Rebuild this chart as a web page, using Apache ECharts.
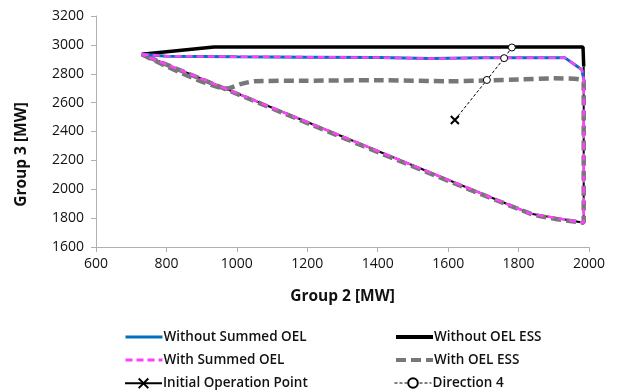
<!DOCTYPE html>
<html lang="en">
<head>
    <meta charset="UTF-8">
    <title>Group 2 vs Group 3</title>
    <script src="https://cdn.jsdelivr.net/npm/echarts@6/dist/echarts.min.js"></script>
    <style>
        html, body {margin: 0; padding: 0; background: #fff;}
        #chart {width: 619px; height: 391px;}
    </style>
</head>
<body>
<div id="chart"></div>
<script>
    // values, [Group 2 MW, Group 3 MW]
    var startPt = [730, 2935];
    var bottomEdge = [[1985, 1768], [1835, 1830], [730, 2935]];
    var summedTop = [[730, 2935], [800, 2922], [1000, 2918], [1200, 2915], [1400, 2912], [1550, 2905], [1700, 2910], [1932, 2910], [1980, 2828], [1985, 2760]];
    var essTop = [[730, 2935], [935, 2985], [1983, 2985], [1985, 2850]];
    var essWithTop = [[972, 2697], [1010, 2728], [1050, 2748], [1200, 2752], [1400, 2755], [1600, 2748], [1800, 2760], [1900, 2768], [1985, 2750]];
    var initialPoint = [[1619, 2480]];
    var direction4 = [[1619, 2480], [1710, 2757], [1759, 2908], [1781, 2982]];

    var xTicks = {min: 600, max: 2000, step: 200};
    var yTicks = {min: 1600, max: 3200, step: 200};

    var grayData = [startPt].concat(essWithTop, bottomEdge);
    var pinkData = summedTop.concat(bottomEdge);
    var blackBottom = [essTop[essTop.length - 1]].concat(bottomEdge);
    var dirData = direction4.map(function (p, i) {
        return i === 0 ? {value: p, symbol: 'none'} : p;
    });

    var axisColor = '#b0b0b0';
    var txtColor = '#111';
    var font = '"Open Sans", "Liberation Sans", sans-serif';

    // one legend box per entry, laid out in 2 columns x 3 rows like the original
    var legendCols = [119, 389];
    var legendRows = [334, 357, 380];
    var legendItems = [
        ['Without Summed OEL', 'Without OEL ESS'],
        ['With Summed OEL', 'With OEL ESS'],
        ['Initial Operation Point', 'Direction 4']
    ];
    var legendLineW = {
        'Without Summed OEL': 3, 'Without OEL ESS': 4, 'With Summed OEL': 3,
        'With OEL ESS': 4, 'Initial Operation Point': 2, 'Direction 4': 1
    };
    var withMarker = {'Initial Operation Point': true, 'Direction 4': true};
    var legends = [];
    for (var r = 0; r < legendItems.length; r++) {
        for (var c = 0; c < legendCols.length; c++) {
            var nm = legendItems[r][c];
            var item = {name: nm, lineStyle: {width: legendLineW[nm]}};
            if (!withMarker[nm]) item.itemStyle = {opacity: 0};
            legends.push({
                left: legendCols[c], top: legendRows[r] - 9,
                itemWidth: 37, itemHeight: 12,
                textStyle: {fontFamily: font, fontSize: 13.5, fontWeight: 600, color: txtColor, padding: [0, 0, 0, -4]},
                data: [item]
            });
        }
    }

    var chart = echarts.init(document.getElementById('chart'));
    var option = {
        backgroundColor: '#fff',
        animation: false,
        grid: {left: 96, right: 30, top: 16, bottom: 144},
        xAxis: {
            type: 'value',
            min: xTicks.min, max: xTicks.max, interval: xTicks.step,
            name: 'Group 2 [MW]',
            nameLocation: 'middle',
            nameGap: 42,
            nameTextStyle: {fontFamily: font, fontSize: 15.5, fontWeight: 'bold', color: txtColor},
            axisLine: {lineStyle: {color: axisColor}},
            axisTick: {show: true, length: 5, lineStyle: {color: axisColor}},
            axisLabel: {fontFamily: font, fontSize: 14, color: txtColor, margin: 10, formatter: function (v) { return String(v); }},
            splitLine: {show: false}
        },
        yAxis: {
            type: 'value',
            min: yTicks.min, max: yTicks.max, interval: yTicks.step,
            name: 'Group 3 [MW]',
            nameLocation: 'middle',
            nameGap: 66,
            nameTextStyle: {fontFamily: font, fontSize: 15.5, fontWeight: 'bold', color: txtColor, padding: [0, 46, 0, 0]},
            axisLine: {show: true, lineStyle: {color: axisColor}},
            axisTick: {show: true, length: 5, lineStyle: {color: axisColor}},
            axisLabel: {fontFamily: font, fontSize: 14, color: txtColor, margin: 12, formatter: function (v) { return String(v); }},
            splitLine: {show: false}
        },
        legend: legends,
        series: [
            {
                name: 'Without OEL ESS', type: 'line', data: essTop,
                showSymbol: false, symbol: 'none',
                lineStyle: {color: '#000', width: 3.5}, itemStyle: {color: '#000'}, z: 2
            },
            {
                name: 'Without OEL ESS', type: 'line', data: blackBottom,
                showSymbol: false, symbol: 'none',
                lineStyle: {color: '#000', width: 2}, itemStyle: {color: '#000'}, z: 2
            },
            {
                name: 'With OEL ESS', type: 'line', data: grayData,
                showSymbol: false, symbol: 'none', smooth: 0.2,
                lineStyle: {color: '#777', width: 4.5, type: [10, 5]}, itemStyle: {color: '#777'}, z: 3
            },
            {
                name: 'Without Summed OEL', type: 'line', data: summedTop,
                showSymbol: false, symbol: 'none',
                lineStyle: {color: '#0070c0', width: 3}, itemStyle: {color: '#0070c0'}, z: 4
            },
            {
                name: 'With Summed OEL', type: 'line', data: pinkData,
                showSymbol: false, symbol: 'none',
                lineStyle: {color: '#ff40ff', width: 2.5, type: [7, 4]}, itemStyle: {color: '#ff40ff'}, z: 5
            },
            {
                name: 'Initial Operation Point', type: 'line', data: initialPoint,
                symbol: 'path://M0,0L10,10M10,0L0,10', symbolSize: 8,
                lineStyle: {color: '#000', width: 1.5},
                itemStyle: {color: 'none', borderColor: '#000', borderWidth: 2}, z: 6
            },
            {
                name: 'Direction 4', type: 'line', data: dirData,
                symbol: 'circle', symbolSize: 7,
                lineStyle: {color: '#000', width: 1, type: [3, 2]},
                itemStyle: {color: '#fff', borderColor: '#000', borderWidth: 1}, z: 7
            }
        ]
    };
    chart.setOption(option);
</script>
</body>
</html>
